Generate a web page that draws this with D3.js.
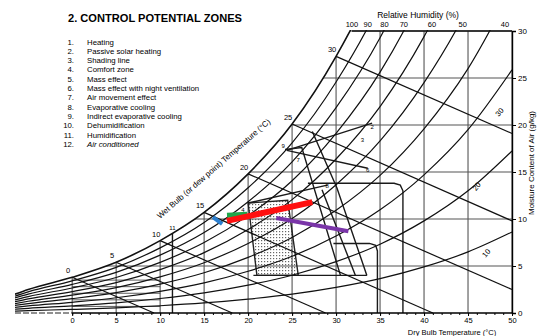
<!DOCTYPE html>
<html>
<head>
<meta charset="utf-8">
<script src="https://cdn.jsdelivr.net/npm/d3@7"></script>
<style>
  body { margin: 0; background: #fff; }
  svg { display: block; font-family: "Liberation Sans", Arial, sans-serif; }
</style>
</head>
<body>
<svg id="chart" width="539" height="336"></svg>
<script>
// saturation (100% RH) moisture content
const satT = [-6.5, -5, 0, 5, 10, 15, 20, 25, 30, 35, 40, 45, 50];
const satW = [2.0, 2.5, 3.8, 5.4, 7.7, 10.7, 14.8, 20.1, 27.3, 36.6, 49.0, 65.0, 86.2];

const rhLevels = [100, 90, 80, 70, 60, 50, 40, 30, 20, 10];
const rhTopLabels = [100, 90, 80, 70, 60, 50, 40];
const rhTopLabelT = [31.8, 33.6, 35.5, 37.7, 40.9, 44.4, 49.2];
const rhSideLabels = ['30', '20', '10'];
const rhSideLabelPos = [[48.8, 21.2], [46.2, 13.3], [47.3, 6.2]];

const wbTemps = [0, 5, 10, 15, 20, 25, 30];
const wbEnds = [[9.3, 0], [18.2, 0], [28.8, 0], [41, 0], [50, 2.5], [50, 9.8], [50, 19.1]];

const dbTicks = [0, 5, 10, 15, 20, 25, 30, 35, 40, 45, 50];
const mcTicks = [0, 5, 10, 15, 20, 25, 30];
const hatchW = [0.7, 1.4, 2.1, 2.8, 3.5];

const legendItems = [
  'Heating', 'Passive solar heating', 'Shading line', 'Comfort zone', 'Mass effect',
  'Mass effect with night ventilation', 'Air movement effect', 'Evaporative cooling',
  'Indirect evaporative cooling', 'Dehumidification', 'Humidification', 'Air conditioned'
];

// zone outlines (dry bulb °C, moisture g/kg)
const comfortZone = [[20.0, 11.7], [24.5, 12.0], [25.7, 4.0], [21.0, 4.0]];
const zoneLines = [
  [[24.2, 17.4], [26.1, 17.6], [30.5, 4.0]],
  [[27.3, 19.3], [30.1, 13.3], [33.5, 4.0]],
  [[28.4, 13.1], [32.2, 4.0]],
  [[20.6, 4.0], [33.5, 4.0]],
  [[20.0, 11.7], [29.0, 13.6]],
  [[26.8, 13.8], [36.6, 13.8], [37.3, 13.6], [37.6, 13.0], [37.6, 0]],
  [[29.7, 7.4], [33.8, 7.4], [34.5, 7.2], [34.7, 6.6], [34.7, 0]],
  [[24.4, 17.3], [34.1, 20.2]],
  [[24.4, 17.3], [33.6, 15.4]],
  [[11.4, 0], [11.4, 9.5]]
];
const zoneLabels = ['9', '7', '2', '3', '6', '8', '4', '11'];
const zoneLabelPos = [[24.0, 17.6], [25.7, 16.1], [34.1, 19.6], [33.0, 18.2], [33.6, 15.0], [29.0, 13.3], [19.4, 10.7], [11.4, 8.8]];

// coloured overlays
const blueLine = [[16.0, 10.2], [17.05, 9.47]];
const greenLine = [[17.6, 10.4], [19.9, 10.5]];
const redLine = [[17.6, 9.8], [27.3, 11.8]];
const purpleLine = [[23.2, 10.1], [31.4, 8.7]];

const svg = d3.select('#chart');
const x = d3.scaleLinear().domain([-6.5, 50]).range([15, 512]);
const y = d3.scaleLinear().domain([0, 30]).range([313, 31]);

const satPts = satT.map((t, i) => [t, satW[i]]);
const line = d3.line().x(d => x(d[0])).y(d => y(d[1]));
const curve = d3.line().x(d => x(d[0])).y(d => y(d[1])).curve(d3.curveMonotoneX);

const defs = svg.append('defs');
defs.append('clipPath').attr('id', 'plot')
  .append('rect').attr('x', 15).attr('y', 30).attr('width', 497.5).attr('height', 284);
defs.append('clipPath').attr('id', 'under')
  .append('path')
  .attr('d', d3.area().x(d => x(d[0])).y0(y(0)).y1(d => y(d[1])).curve(d3.curveMonotoneX)(satPts));
const pat = defs.append('pattern').attr('id', 'dots')
  .attr('width', 3).attr('height', 3).attr('patternUnits', 'userSpaceOnUse');
pat.append('rect').attr('width', 1.2).attr('height', 1.2).attr('fill', '#666');

const plot = svg.append('g').attr('clip-path', 'url(#plot)');
const grid = plot.append('g').attr('clip-path', 'url(#under)');

// grid
grid.selectAll('.vg').data(dbTicks).enter().append('line')
  .attr('x1', d => x(d)).attr('x2', d => x(d))
  .attr('y1', y(0)).attr('y2', y(30))
  .attr('stroke', '#555').attr('stroke-width', 1.1);
grid.selectAll('.hg').data(mcTicks.slice(1)).enter().append('line')
  .attr('x1', x(-6.5)).attr('x2', x(50))
  .attr('y1', d => y(d)).attr('y2', d => y(d))
  .attr('stroke', '#555').attr('stroke-width', 1.1);
grid.selectAll('.hatch').data(hatchW).enter().append('line')
  .attr('x1', x(0)).attr('x2', x(10))
  .attr('y1', d => y(d)).attr('y2', d => y(d))
  .attr('stroke', '#333').attr('stroke-width', 0.8);

// comfort zone stipple
grid.append('path').datum(comfortZone)
  .attr('d', d => line(d) + 'Z')
  .attr('fill', 'url(#dots)').attr('stroke', '#222').attr('stroke-width', 1.4);

// zone outlines
grid.selectAll('.zone').data(zoneLines).enter().append('path')
  .attr('d', line).attr('fill', 'none')
  .attr('stroke', '#1a1a1a').attr('stroke-width', 1.4);

// relative humidity curves
plot.selectAll('.rh').data(rhLevels).enter().append('path')
  .attr('d', rh => curve(satPts.map(p => [p[0], p[1] * rh / 100])))
  .attr('fill', 'none').attr('stroke', '#111')
  .attr('stroke-width', d => d === 100 ? 1.6 : 1.2);

// wet bulb lines
plot.selectAll('.wb').data(wbTemps).enter().append('path')
  .attr('d', (t, i) => line([[t, satW[satT.indexOf(t)]], wbEnds[i]]))
  .attr('fill', 'none').attr('stroke', '#111').attr('stroke-width', 1.2);

// coloured lines
[[blueLine, '#2b7fd0', 4], [greenLine, '#1fa64a', 5], [redLine, '#ff1010', 6], [purpleLine, '#7a35a8', 4]]
  .forEach(([pts, c, w]) => {
    svg.append('path').datum(pts).attr('d', line)
      .attr('stroke', c).attr('stroke-width', w).attr('fill', 'none');
  });

// axes
svg.append('line').attr('x1', 15).attr('x2', x(0)).attr('y1', y(0)).attr('y2', y(0))
  .attr('stroke', '#222').attr('stroke-width', 1.2).attr('stroke-dasharray', '6,2');
const xAxis = svg.append('g').attr('transform', `translate(0,${y(0)})`)
  .call(d3.axisBottom(x).tickValues(d3.range(0, 51, 1)).tickSize(2).tickFormat(''));
xAxis.select('.domain').attr('d', `M${x(0)},0H${x(50)}`).attr('stroke-width', 1.3);
svg.append('g').attr('transform', `translate(0,${y(0)})`)
  .call(d3.axisBottom(x).tickValues(dbTicks).tickSize(3).tickPadding(2))
  .call(g => g.select('.domain').remove())
  .selectAll('text').style('font-size', '7.5px').style('font-family', 'Liberation Sans');

const yAxis = svg.append('g').attr('transform', `translate(${x(50)},0)`)
  .call(d3.axisRight(y).tickValues(mcTicks).tickSize(4).tickPadding(2));
yAxis.select('.domain').attr('stroke-width', 1.4);
yAxis.selectAll('text').style('font-size', '8px').style('font-family', 'Liberation Sans');

// top frame at 30 g/kg
svg.append('line').attr('x1', x(31.8)).attr('x2', x(50)).attr('y1', y(30)).attr('y2', y(30))
  .attr('stroke', '#111').attr('stroke-width', 1.4);

// labels
svg.append('text').attr('x', 68).attr('y', 22).text('2. CONTROL POTENTIAL ZONES')
  .attr('textLength', 174).attr('lengthAdjust', 'spacingAndGlyphs')
  .style('font-size', '10.5px').style('font-weight', 'bold');

const leg = svg.append('g').style('font-size', '7.8px');
leg.selectAll('.n').data(legendItems).enter().append('text')
  .attr('x', 74).attr('y', (d, i) => 44.5 + i * 9.33).attr('text-anchor', 'end')
  .text((d, i) => (i + 1) + '.');
leg.selectAll('.t').data(legendItems).enter().append('text')
  .attr('x', 87).attr('y', (d, i) => 44.5 + i * 9.33)
  .style('font-style', (d, i) => i === 11 ? 'italic' : 'normal')
  .text(d => d);

svg.append('text').attr('x', 418).attr('y', 18).attr('text-anchor', 'middle')
  .style('font-size', '8.5px').text('Relative Humidity (%)');
svg.selectAll('.rhl').data(rhTopLabels).enter().append('text')
  .attr('x', (d, i) => x(rhTopLabelT[i])).attr('y', 27).attr('text-anchor', 'middle')
  .style('font-size', '7.5px').text(d => d);
svg.selectAll('.rhs').data(rhSideLabels).enter().append('text')
  .attr('transform', (d, i) => `translate(${x(rhSideLabelPos[i][0])},${y(rhSideLabelPos[i][1])}) rotate(-50)`)
  .attr('text-anchor', 'middle').style('font-size', '7.5px').text(d => d);

svg.selectAll('.wbl').data(wbTemps).enter().append('text')
  .attr('x', t => x(t) - 4).attr('y', t => y(satW[satT.indexOf(t)]) - 4)
  .attr('text-anchor', 'middle').style('font-size', '7.5px').text(d => d);

svg.selectAll('.zl').data(zoneLabels).enter().append('text')
  .attr('x', (d, i) => x(zoneLabelPos[i][0])).attr('y', (d, i) => y(zoneLabelPos[i][1]))
  .attr('text-anchor', 'middle').style('font-size', '6px').text(d => d);

svg.append('text').attr('transform', 'translate(160,219) rotate(-41)')
  .style('font-size', '8px').text('Wet Bulb (or dew point) Temperature (°C)');
svg.append('text').attr('transform', 'translate(534,163) rotate(-90)').attr('text-anchor', 'middle')
  .style('font-size', '8px').text('Moisture Content of Air (g/kg)');
svg.append('text').attr('x', 452).attr('y', 334.5).attr('text-anchor', 'middle')
  .style('font-size', '7.5px').text('Dry Bulb Temperature (°C)');
</script>
</body>
</html>
